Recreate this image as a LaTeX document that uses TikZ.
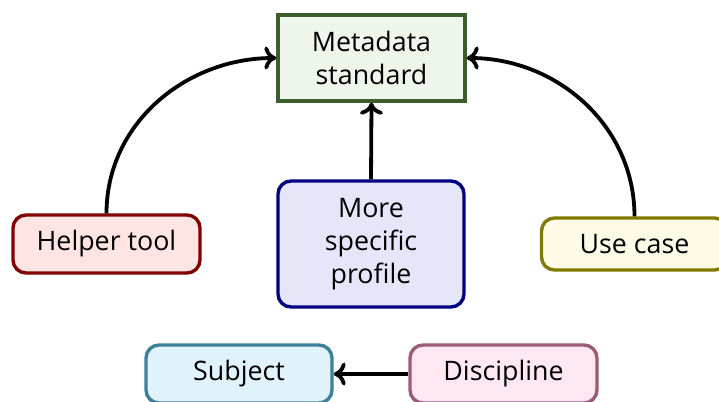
\documentclass[tikz,border=0pt]{standalone}
\usepackage{fontspec}
\setmainfont{Open Sans}
\usetikzlibrary{arrows.meta}
\definecolor{stdborder}{HTML}{3B5E2B}
\definecolor{stdfill}{HTML}{EEF6EC}
\definecolor{profborder}{HTML}{000080}
\definecolor{proffill}{HTML}{E6E6FA}
\definecolor{helpborder}{HTML}{800000}
\definecolor{helpfill}{HTML}{FFE4E4}
\definecolor{caseborder}{HTML}{807A00}
\definecolor{casefill}{HTML}{FDFBE6}
\definecolor{subjborder}{HTML}{3F7F9A}
\definecolor{subjfill}{HTML}{E0F3FA}
\definecolor{discborder}{HTML}{9A5C78}
\definecolor{discfill}{HTML}{FDE8F1}
\tikzset{
  box/.style={draw, line width=3.4pt, align=center, inner sep=0pt,
    font=\fontsize{26.8}{33}\selectfont, text=black},
  rbox/.style={box, rounded corners=13pt},
  link/.style={line width=3.8pt, black,
    -{Computer Modern Rightarrow[length=12pt,width=23pt]}},
}
\begin{document}
\begin{tikzpicture}[x=1pt,y=-1pt]
  \useasboundingbox (0,0) rectangle (719,401);
  \clip (0,0) rectangle (719,401);
  \node[box, fill=stdfill, draw=stdborder, minimum width=187pt, minimum height=86pt]
    (meta) at (371.5,58) {Metadata\\standard};
  \node[rbox, fill=proffill, draw=profborder, minimum width=186pt, minimum height=126pt]
    (prof) at (371,244) {More\\specific\\profile};
  \node[rbox, fill=helpfill, draw=helpborder, minimum width=187pt, minimum height=58pt]
    (help) at (106.5,244) {Helper tool};
  \node[rbox, fill=casefill, draw=caseborder, minimum width=186pt, minimum height=52pt]
    (case) at (634.5,244) {Use case};
  \node[rbox, fill=subjfill, draw=subjborder, minimum width=186pt, minimum height=58pt]
    (subj) at (239,374) {Subject};
  \node[rbox, fill=discfill, draw=discborder, minimum width=187pt, minimum height=58pt]
    (disc) at (503.5,374) {Discipline};
  \draw[link] (help.north) to[out=90,in=180] (meta.west);
  \draw[link] (case.north) to[out=90,in=0] (meta.east);
  \draw[link] (prof.north) -- (meta.south);
  \draw[link] (disc.west) -- (subj.east);
\end{tikzpicture}
\end{document}
